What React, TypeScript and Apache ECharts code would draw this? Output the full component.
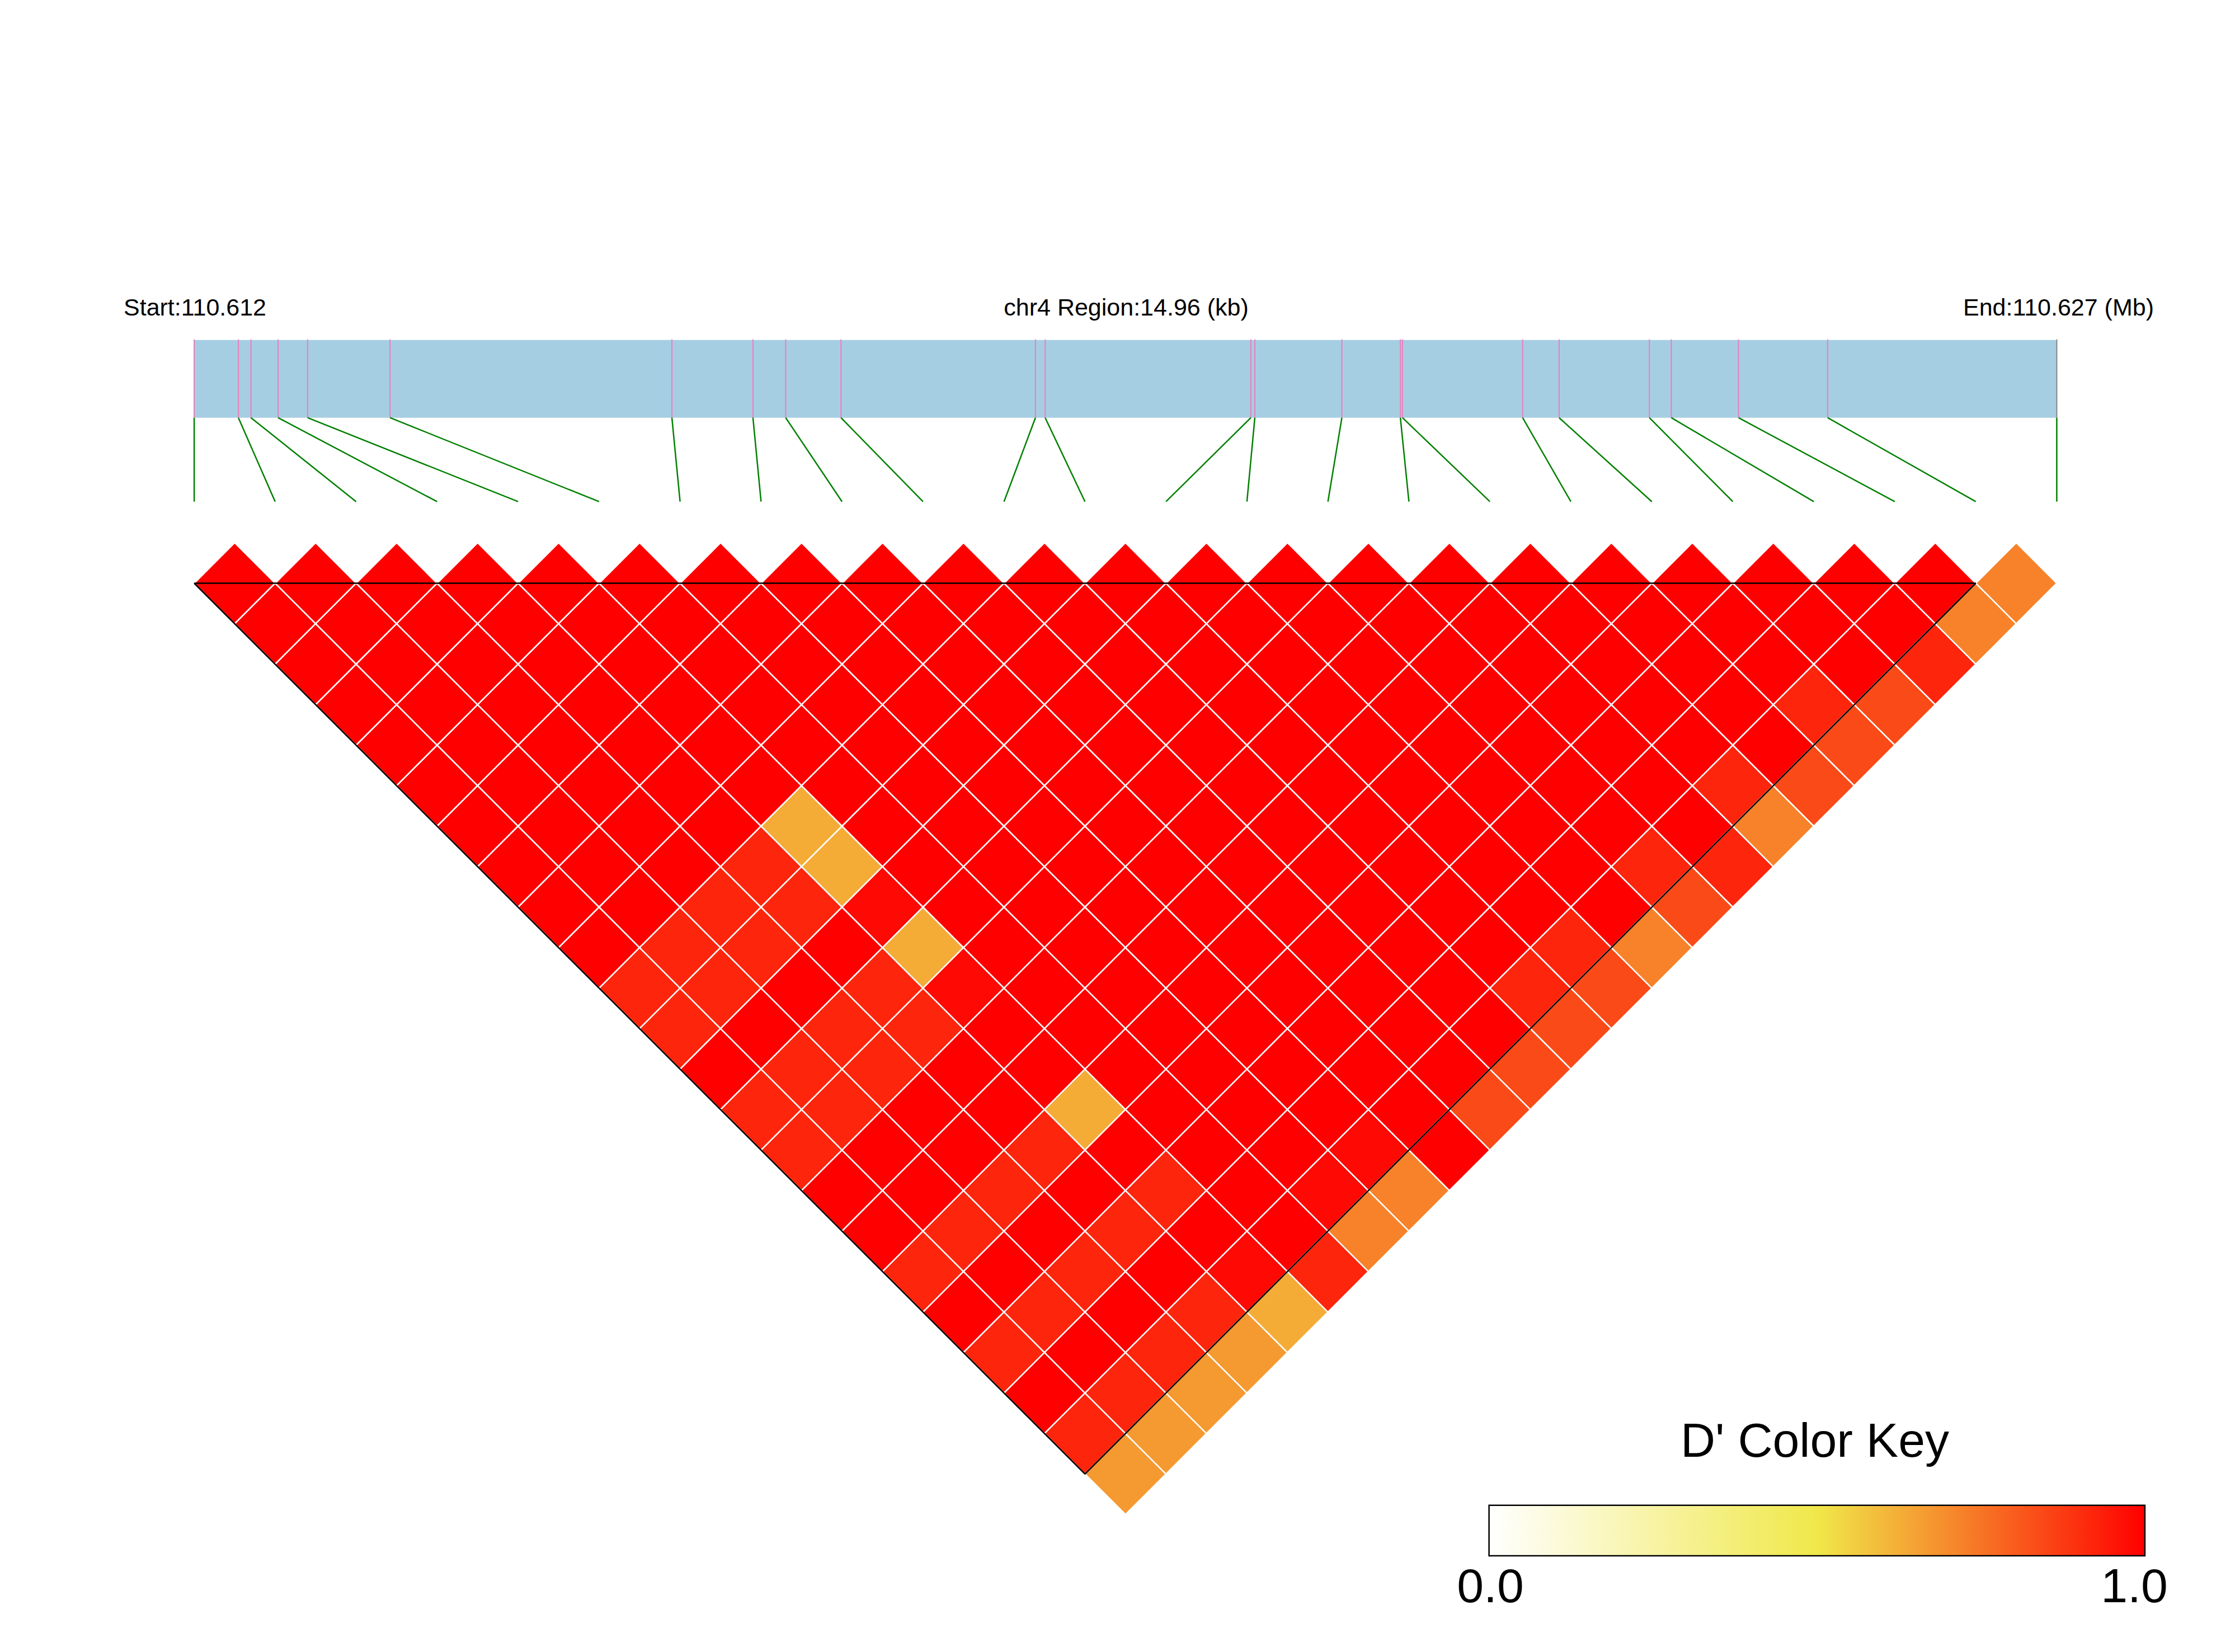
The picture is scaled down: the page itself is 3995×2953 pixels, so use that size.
import React, { useEffect, useRef } from 'react';
import * as echarts from 'echarts';

// ---------------- data ----------------
const REGION_START = 110612100;
const REGION_END = 110627060;
const START_LABEL = 'Start:110.612';
const REGION_LABEL = 'chr4 Region:14.96 (kb)';
const END_LABEL = 'End:110.627 (Mb)';

// SNP genomic positions (bp)
const SNP_POSITIONS = [
  110612100, 110612455, 110612556, 110612774, 110613011, 110613673,
  110615937, 110616588, 110616851, 110617295, 110618857, 110618935,
  110620587, 110620619, 110621318, 110621788, 110621805, 110622770,
  110623063, 110623788, 110623964, 110624504, 110625220, 110627060,
];

// D' values, row i holds pairs (i, j) for j = i+1 .. 23
const DPRIME_ROWS: number[][] = [
  [1, 1, 1, 1, 1, 1, 1, 1, 1, 1, 0.92, 0.92, 1, 0.92, 0.92, 1, 1, 0.92, 1, 0.92, 1, 0.92, 0.67],
  [1, 1, 1, 1, 1, 1, 1, 1, 1, 0.92, 0.92, 1, 0.92, 0.92, 1, 1, 0.92, 1, 0.92, 1, 0.92, 0.67],
  [1, 1, 1, 1, 1, 1, 1, 1, 0.92, 0.92, 1, 0.92, 0.92, 1, 1, 0.92, 1, 0.92, 1, 0.92, 0.67],
  [1, 1, 1, 1, 1, 1, 1, 0.92, 0.92, 1, 0.92, 0.92, 1, 1, 0.92, 1, 0.92, 1, 0.92, 0.67],
  [1, 1, 1, 1, 1, 1, 0.63, 0.63, 0.98, 0.63, 0.98, 1, 1, 0.63, 1, 0.92, 1, 0.98, 0.63],
  [1, 1, 1, 1, 1, 1, 1, 1, 1, 1, 1, 1, 1, 1, 1, 1, 1, 0.92],
  [1, 1, 1, 1, 1, 1, 1, 1, 1, 1, 1, 1, 1, 1, 1, 0.98, 0.72],
  [1, 1, 1, 1, 1, 1, 1, 1, 1, 1, 1, 1, 1, 1, 0.98, 0.72],
  [1, 1, 1, 1, 1, 1, 1, 1, 1, 1, 1, 1, 1, 1, 1],
  [1, 1, 1, 1, 1, 1, 1, 1, 1, 1, 1, 1, 1, 0.84],
  [1, 1, 1, 1, 1, 1, 1, 1, 1, 1, 1, 1, 0.84],
  [1, 1, 1, 1, 1, 1, 1, 1, 1, 1, 0.92, 0.84],
  [1, 1, 1, 1, 1, 1, 1, 1, 1, 0.92, 0.84],
  [1, 1, 1, 1, 1, 1, 1, 1, 1, 0.72],
  [1, 1, 1, 1, 1, 1, 1, 0.92, 0.84],
  [1, 1, 1, 1, 1, 1, 1, 0.92],
  [1, 1, 1, 1, 1, 0.92, 0.72],
  [1, 1, 1, 1, 1, 0.84],
  [1, 1, 1, 0.92, 0.84],
  [1, 1, 1, 0.84],
  [1, 1, 0.92],
  [1, 0.72],
  [0.72],
];

const KEY_TITLE = "D' Color Key";
const KEY_STOPS = [0, 0.5, 1];
const KEY_COLORS = ['#FFFFFF', '#F0E84A', '#FF0000'];
const KEY_MIN_LABEL = '0.0';
const KEY_MAX_LABEL = '1.0';

// ---------------- layout ----------------
const W = 3995;
const H = 2953;
const N = SNP_POSITIONS.length;
const PLOT_LEFT = 347.1;
const PLOT_WIDTH = 3329.3;
const HALF = PLOT_WIDTH / (N - 1) / 2;
const TRACK_TOP = 607.7;
const TRACK_HEIGHT = 289;
const BAR_HEIGHT = 139;
const BAR_LOW = 1 - BAR_HEIGHT / TRACK_HEIGHT;
const LD_TOP = 1042.5 - HALF;
const LD_HEIGHT = N * HALF;
const FONT = '"Liberation Sans", Arial, Helvetica, sans-serif';

export default function App() {
  const ref = useRef<HTMLDivElement>(null);

  useEffect(() => {
    document.body.style.margin = '0';
    document.body.style.overflow = 'hidden';
    const chart = echarts.init(ref.current!, null, { renderer: 'svg', width: W, height: H });

    const ldData: number[][] = [];
    DPRIME_ROWS.forEach((row, i) => {
      row.forEach((v, k) => ldData.push([i, i + 1 + k, v]));
    });
    const snpData = SNP_POSITIONS.map((p, k) => [p, k]);
    const span = REGION_END - REGION_START;

    const keyX = 2661.6, keyY = 2690.7, keyW = 1172.3, keyH = 90.3;

    const option: any = {
      animation: false,
      backgroundColor: '#FFFFFF',
      grid: [
        { left: PLOT_LEFT, width: PLOT_WIDTH, top: TRACK_TOP, height: TRACK_HEIGHT },
        { left: PLOT_LEFT, width: PLOT_WIDTH, top: LD_TOP, height: LD_HEIGHT },
      ],
      xAxis: [
        { type: 'value', gridIndex: 0, min: REGION_START, max: REGION_END, show: false },
        { type: 'value', gridIndex: 1, min: 0, max: N - 1, show: false },
      ],
      yAxis: [
        { type: 'value', gridIndex: 0, min: 0, max: 1, show: false },
        { type: 'value', gridIndex: 1, min: 0, max: N, inverse: true, show: false },
      ],
      visualMap: {
        type: 'continuous',
        show: false,
        min: 0,
        max: 1,
        dimension: 2,
        seriesIndex: 2,
        inRange: { color: KEY_COLORS },
      },
      series: [
        {
          type: 'custom',
          name: 'region',
          xAxisIndex: 0,
          yAxisIndex: 0,
          silent: true,
          data: [[REGION_START, REGION_END]],
          renderItem: (params: any, api: any) => {
            const p0 = api.coord([api.value(0), 1]);
            const p1 = api.coord([api.value(1), BAR_LOW]);
            return {
              type: 'rect',
              shape: { x: p0[0], y: p0[1], width: p1[0] - p0[0], height: p1[1] - p0[1] },
              style: { fill: '#A6CEE3' },
            };
          },
          z: 1,
        },
        {
          type: 'custom',
          name: 'snps',
          xAxisIndex: 0,
          yAxisIndex: 0,
          silent: true,
          data: snpData,
          renderItem: (params: any, api: any) => {
            const pos = api.value(0);
            const k = api.value(1);
            const top = api.coord([pos, 1]);
            const mid = api.coord([pos, BAR_LOW]);
            const bottom = api.coord([REGION_START + (k * span) / (N - 1), 0]);
            return {
              type: 'group',
              children: [
                {
                  type: 'line',
                  shape: { x1: top[0], y1: top[1] - 1, x2: mid[0], y2: mid[1] },
                  style: { stroke: k === N - 1 ? '#8C8C8C' : '#E684BF', lineWidth: 2.2 },
                },
                {
                  type: 'line',
                  shape: { x1: mid[0], y1: mid[1], x2: bottom[0], y2: bottom[1] },
                  style: { stroke: '#008000', lineWidth: 2.5 },
                },
              ],
            };
          },
          z: 2,
        },
        {
          type: 'custom',
          name: 'ld',
          xAxisIndex: 1,
          yAxisIndex: 1,
          silent: true,
          data: ldData,
          renderItem: (params: any, api: any) => {
            const i = api.value(0);
            const j = api.value(1);
            const xc = (i + j) / 2;
            const d = j - i;
            const pts = [
              [xc - 0.5, d],
              [xc, d - 1],
              [xc + 0.5, d],
              [xc, d + 1],
            ].map((p) => api.coord(p));
            return {
              type: 'polygon',
              shape: { points: pts },
              style: { fill: api.visual('color'), stroke: '#FFFFFF', lineWidth: 2.5 },
            };
          },
          z: 2,
        },
        {
          type: 'line',
          name: 'outline',
          xAxisIndex: 1,
          yAxisIndex: 1,
          silent: true,
          symbol: 'none',
          data: [
            [0, 1],
            [N - 2, 1],
            [(N - 2) / 2, N - 1],
            [0, 1],
          ],
          lineStyle: { color: '#000000', width: 2.5 },
          z: 5,
        },
      ],
      graphic: [
        {
          type: 'text',
          x: 221,
          y: 549,
          style: { text: START_LABEL, fontSize: 43, fontFamily: FONT, fill: '#000', textAlign: 'left', textVerticalAlign: 'middle' },
        },
        {
          type: 'text',
          x: 2013,
          y: 549,
          style: { text: REGION_LABEL, fontSize: 43, fontFamily: FONT, fill: '#000', textAlign: 'center', textVerticalAlign: 'middle' },
        },
        {
          type: 'text',
          x: 3850,
          y: 549,
          style: { text: END_LABEL, fontSize: 43, fontFamily: FONT, fill: '#000', textAlign: 'right', textVerticalAlign: 'middle' },
        },
        {
          type: 'text',
          x: 3244,
          y: 2574,
          style: { text: KEY_TITLE, fontSize: 86, fontFamily: FONT, fill: '#000', textAlign: 'center', textVerticalAlign: 'middle' },
        },
        {
          type: 'rect',
          shape: { x: keyX, y: keyY, width: keyW, height: keyH },
          style: {
            fill: new echarts.graphic.LinearGradient(
              0, 0, 1, 0,
              KEY_COLORS.map((c, k) => ({ offset: KEY_STOPS[k], color: c }))
            ),
            stroke: '#000000',
            lineWidth: 2.5,
          },
        },
        {
          type: 'text',
          x: 2664,
          y: 2834,
          style: { text: KEY_MIN_LABEL, fontSize: 86, fontFamily: FONT, fill: '#000', textAlign: 'center', textVerticalAlign: 'middle' },
        },
        {
          type: 'text',
          x: 3815,
          y: 2834,
          style: { text: KEY_MAX_LABEL, fontSize: 86, fontFamily: FONT, fill: '#000', textAlign: 'center', textVerticalAlign: 'middle' },
        },
      ],
    };

    chart.setOption(option);
    return () => chart.dispose();
  }, []);

  return <div ref={ref} style={{ position: 'absolute', left: 0, top: 0, width: W, height: H }} />;
}
